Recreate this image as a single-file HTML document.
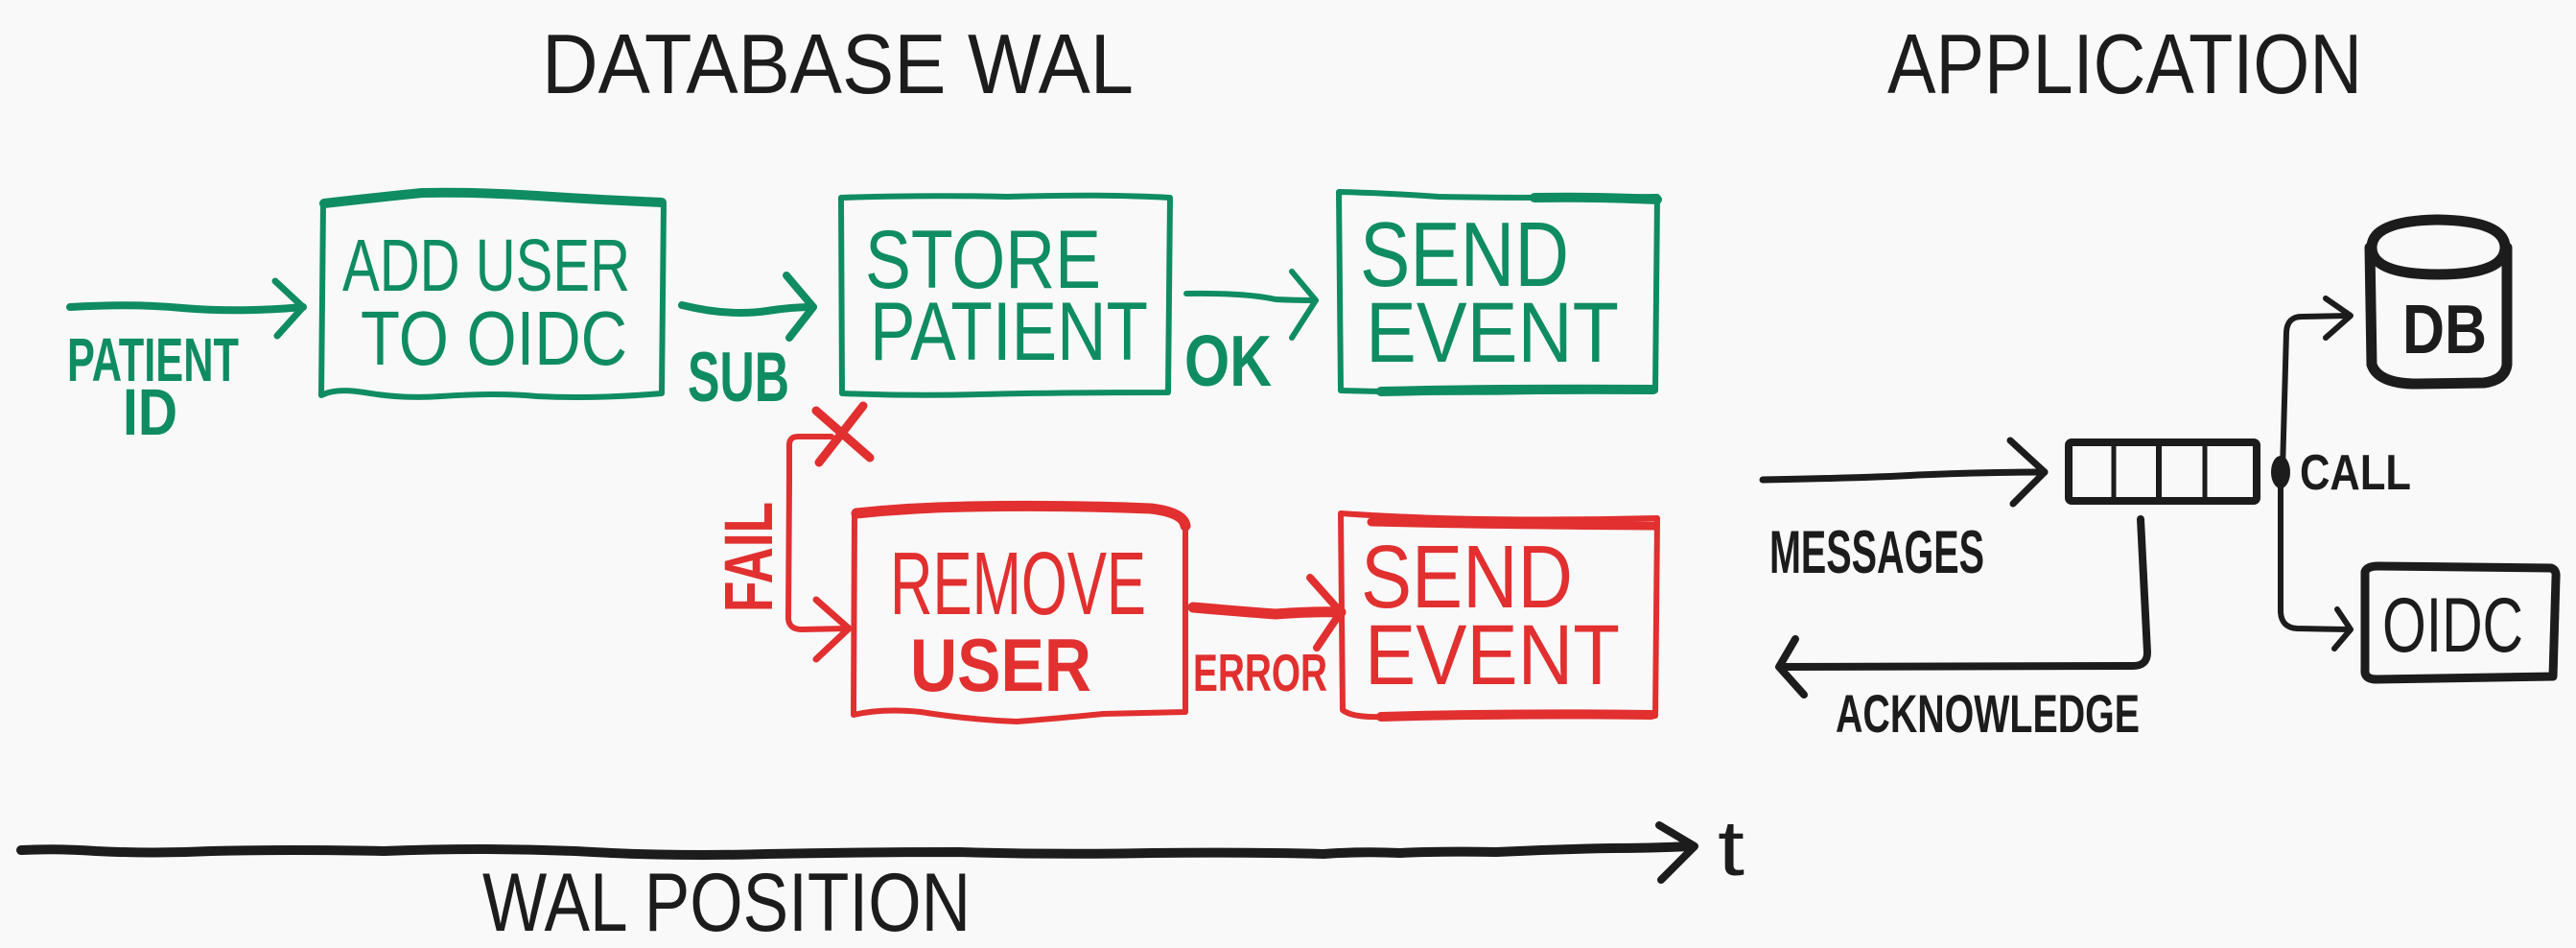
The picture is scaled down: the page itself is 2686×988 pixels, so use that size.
<!DOCTYPE html>
<html><head><meta charset="utf-8"><style>
html,body{margin:0;padding:0;background:#f9f9f9;}
svg{display:block;}
text{font-family:"Liberation Sans",sans-serif;}
</style></head><body>
<svg width="2686" height="988" viewBox="0 0 2686 988" xmlns="http://www.w3.org/2000/svg">
<rect width="2686" height="988" fill="#f9f9f9"/>

<!-- Titles -->
<g fill="#1c1c1c">
<text x="565" y="97" font-size="88" textLength="617" lengthAdjust="spacingAndGlyphs">DATABASE WAL</text>
<text x="1968" y="97" font-size="88" textLength="495" lengthAdjust="spacingAndGlyphs">APPLICATION</text>
</g>

<!-- GREEN -->
<g stroke="#0f8c62" fill="none" stroke-linecap="round" stroke-linejoin="round">
  <!-- box1 -->
  <path d="M337,212 L335,412 Q350,404 380,409 Q420,416 460,413 Q520,409 560,413 Q620,416 690,410 L692,212" stroke-width="6"/>
  <path d="M338,212 Q390,206 440,201 Q500,200 560,204 Q620,208 690,211" stroke-width="10"/>
  <!-- box2 -->
  <path d="M877,206 L878,410 Q950,413 1020,411 Q1100,409 1218,409 L1220,206 Q1150,202 1050,205 Q960,203 877,206 Z" stroke-width="6"/>
  <!-- box3 -->
  <path d="M1396,200 L1398,407 Q1500,410 1600,408 L1726,407 L1728,205 Q1600,207 1500,205 Q1440,201 1396,200 Z" stroke-width="6"/>
  <path d="M1600,206 Q1670,205 1728,208" stroke-width="10"/>
  <path d="M1440,408 Q1560,405 1724,406" stroke-width="10"/>
  <!-- arrows -->
  <path d="M73,320 Q140,316 190,321 Q250,326 316,320" stroke-width="8"/>
  <polyline points="287,293 316,320 289,350" stroke-width="7"/>
  <path d="M711,318 Q760,330 800,324 Q825,320 848,320" stroke-width="8"/>
  <polyline points="820,287 848,320 823,352" stroke-width="8"/>
  <path d="M1237,306 Q1300,305 1330,312 Q1350,313 1372,313" stroke-width="6"/>
  <polyline points="1347,283 1372,313 1347,352" stroke-width="6"/>
</g>
<g fill="#0f8c62">
  <text x="357" y="303" font-size="77" textLength="300" lengthAdjust="spacingAndGlyphs">ADD USER</text>
  <text x="376" y="380" font-size="80" textLength="278" lengthAdjust="spacingAndGlyphs">TO OIDC</text>
  <text x="902" y="300" font-size="86" textLength="246" lengthAdjust="spacingAndGlyphs">STORE</text>
  <text x="907" y="375" font-size="86" textLength="290" lengthAdjust="spacingAndGlyphs">PATIENT</text>
  <text x="1418" y="298" font-size="96" textLength="218" lengthAdjust="spacingAndGlyphs">SEND</text>
  <text x="1424" y="377" font-size="89" textLength="264" lengthAdjust="spacingAndGlyphs">EVENT</text>
  <text x="70" y="397" font-size="64" font-weight="bold" textLength="179" lengthAdjust="spacingAndGlyphs">PATIENT</text>
  <text x="128" y="453" font-size="69" font-weight="bold" textLength="57" lengthAdjust="spacingAndGlyphs">ID</text>
  <text x="717" y="418" font-size="73" font-weight="bold" textLength="106" lengthAdjust="spacingAndGlyphs">SUB</text>
  <text x="1235" y="402" font-size="75" font-weight="bold" textLength="91" lengthAdjust="spacingAndGlyphs">OK</text>
</g>

<!-- RED -->
<g stroke="#e1302f" fill="none" stroke-linecap="round" stroke-linejoin="round">
  <path d="M823,500 L823,464 Q823,455 832,455 L867,455" stroke-width="6"/>
  <path d="M823,500 L822,645 Q823,656 836,656 L884,655" stroke-width="6"/>
  <polyline points="851,625 885,655 851,687" stroke-width="7"/>
  <line x1="851" y1="428" x2="907" y2="477" stroke-width="9"/>
  <line x1="900" y1="423" x2="854" y2="482" stroke-width="9"/>
  <!-- remove user box -->
  <path d="M891,535 L890,745 Q920,738 960,742 Q1010,750 1060,752 Q1110,748 1150,744 L1236,742 L1236,548" stroke-width="6"/>
  <path d="M893,535 Q950,529 1010,528 Q1100,526 1200,530 Q1234,534 1236,548" stroke-width="11"/>
  <!-- send event box -->
  <path d="M1398,535 L1400,740 Q1410,748 1440,747 L1726,746 L1728,540 Q1600,543 1500,540 Q1440,538 1398,535 Z" stroke-width="6"/>
  <path d="M1430,544 Q1550,547 1726,548" stroke-width="9"/>
  <path d="M1440,747 Q1580,743 1722,745" stroke-width="10"/>
  <!-- error arrow -->
  <path d="M1244,633 Q1290,637 1330,640 Q1370,637 1398,638" stroke-width="11"/>
  <polyline points="1366,602 1398,638 1373,675" stroke-width="8"/>
</g>
<g fill="#e1302f">
  <text x="928" y="640" font-size="93" textLength="267" lengthAdjust="spacingAndGlyphs">REMOVE</text>
  <text x="949" y="720" font-size="78" font-weight="bold" textLength="189" lengthAdjust="spacingAndGlyphs">USER</text>
  <text x="1419" y="633" font-size="93" textLength="221" lengthAdjust="spacingAndGlyphs">SEND</text>
  <text x="1423" y="713" font-size="89" textLength="266" lengthAdjust="spacingAndGlyphs">EVENT</text>
  <text x="1244" y="720" font-size="55" font-weight="bold" textLength="140" lengthAdjust="spacingAndGlyphs">ERROR</text>
  <text transform="translate(805,638) rotate(-90)" x="0" y="0" font-size="71" font-weight="bold" textLength="115" lengthAdjust="spacingAndGlyphs">FAIL</text>
</g>

<!-- BLACK (application) -->
<g stroke="#1c1c1c" fill="none" stroke-linecap="round" stroke-linejoin="round">
  <path d="M1838,500 Q1950,498 2000,495 Q2070,492 2132,492" stroke-width="7"/>
  <polyline points="2096,459 2132,492 2099,525" stroke-width="7"/>
  <rect x="2157" y="461" width="196" height="61" rx="3" stroke-width="8"/>
  <line x1="2204" y1="463" x2="2204" y2="520" stroke-width="5"/>
  <line x1="2251" y1="463" x2="2251" y2="520" stroke-width="6"/>
  <line x1="2299" y1="463" x2="2299" y2="520" stroke-width="5"/>
  <path d="M2232,541 L2239,680 Q2239,694 2224,694 L1856,695" stroke-width="8"/>
  <polyline points="1872,666 1855,695 1881,724" stroke-width="8"/>
  <path d="M2380,490 L2384,346 Q2385,330 2400,330 L2450,329" stroke-width="6"/>
  <polyline points="2425,311 2451,329 2425,352" stroke-width="6"/>
  <path d="M2378,495 L2378,638 Q2379,654 2395,655 L2450,656" stroke-width="6"/>
  <polyline points="2437,635 2451,656 2434,676" stroke-width="6"/>
  <!-- DB cylinder -->
  <path d="M2473,258 Q2473,230 2542,229 Q2612,230 2612,258 Q2612,286 2542,286 Q2473,286 2473,258 Z" stroke-width="11"/>
  <path d="M2471,258 L2473,380 Q2480,400 2520,400 L2590,399 Q2612,396 2614,380 L2614,258" stroke-width="11"/>
  <!-- OIDC box -->
  <path d="M2466,596 Q2468,590 2480,590 L2660,592 Q2666,594 2665,602 L2662,705 L2478,708 Q2465,708 2466,698 Z" stroke-width="9"/>
  <!-- time axis -->
  <path d="M22,886 Q60,884 100,887 Q160,890 220,887 Q300,885 400,887 Q500,883 600,887 Q700,893 800,890 Q900,888 1000,888 Q1100,891 1200,889 Q1300,888 1380,890 Q1420,887 1460,889 Q1500,887 1560,888 Q1620,885 1680,884 Q1720,884 1763,882" stroke-width="10"/>
  <polyline points="1730,860 1767,882 1732,917" stroke-width="8"/>
</g>
<ellipse cx="2378" cy="492" rx="10" ry="17" fill="#1c1c1c"/>
<g fill="#1c1c1c">
  <text x="1845" y="597" font-size="63" font-weight="bold" textLength="224" lengthAdjust="spacingAndGlyphs">MESSAGES</text>
  <text x="1914" y="763" font-size="56" font-weight="bold" textLength="317" lengthAdjust="spacingAndGlyphs">ACKNOWLEDGE</text>
  <text x="2398" y="510" font-size="52" font-weight="bold" textLength="116" lengthAdjust="spacingAndGlyphs">CALL</text>
  <text x="2505" y="368" font-size="72" font-weight="bold" textLength="88" lengthAdjust="spacingAndGlyphs">DB</text>
  <text x="2484" y="679" font-size="81" textLength="147" lengthAdjust="spacingAndGlyphs">OIDC</text>
  <text x="503" y="970" font-size="86" textLength="509" lengthAdjust="spacingAndGlyphs">WAL POSITION</text>
  <text x="1791" y="912" font-size="82" textLength="28" lengthAdjust="spacingAndGlyphs">t</text>
</g>
</svg>
</body></html>
